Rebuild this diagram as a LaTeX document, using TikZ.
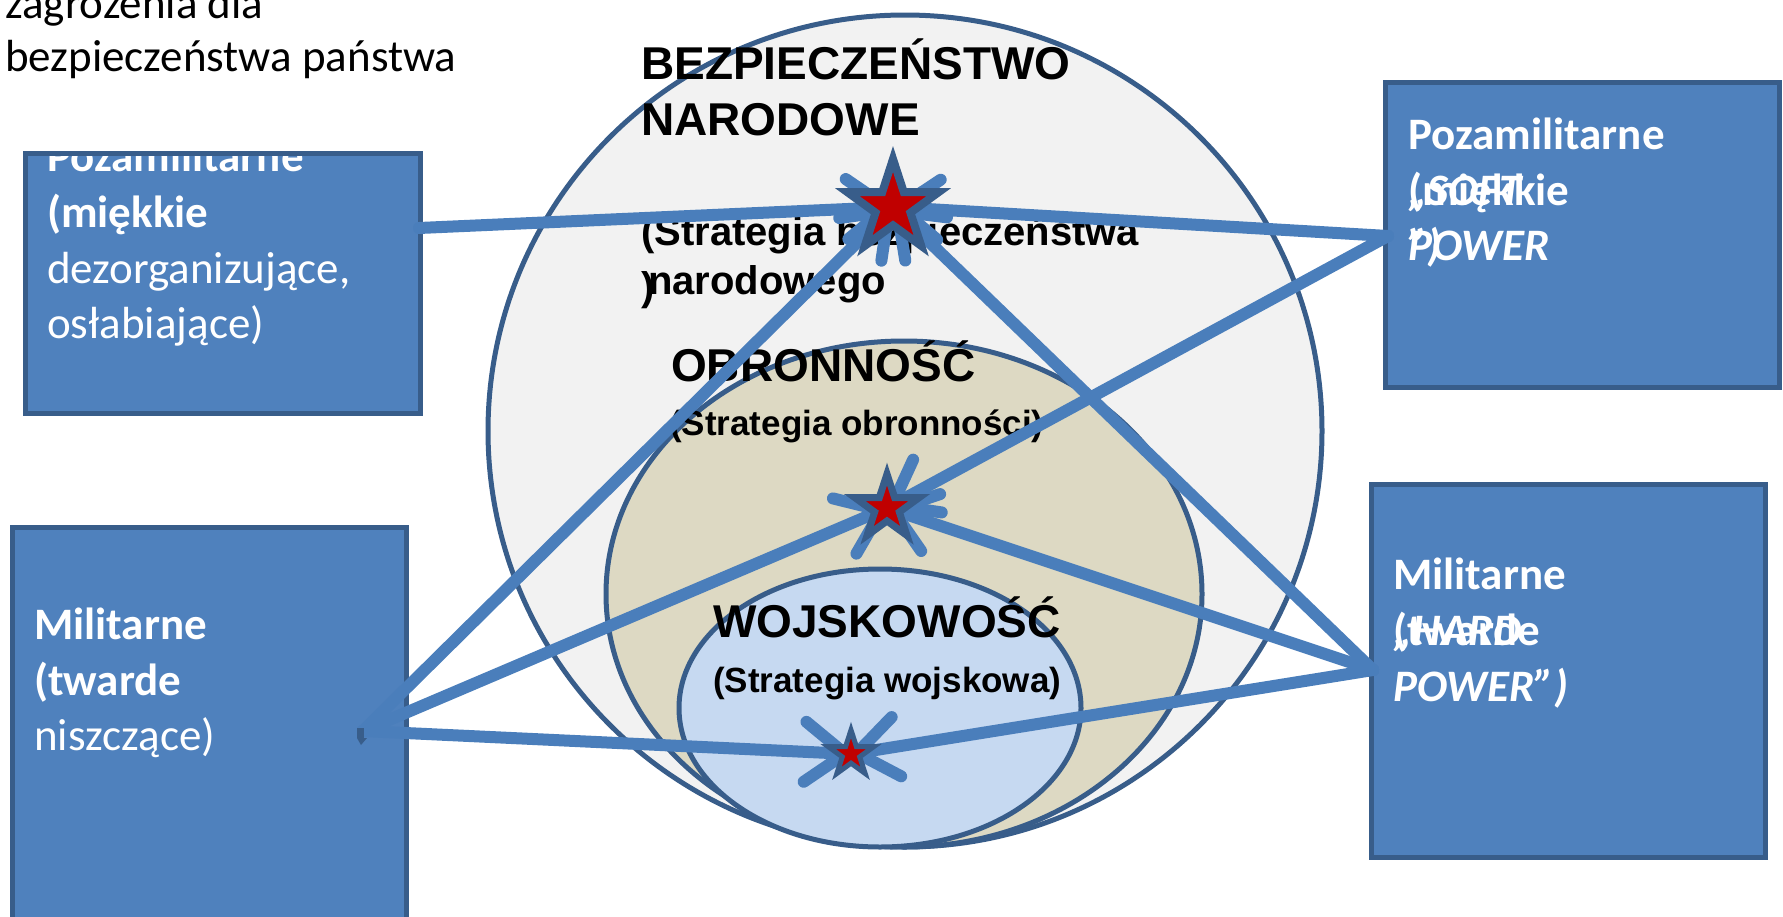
\documentclass[tikz,border=0pt]{standalone}
\usepackage{fontspec}
\setmainfont{Carlito}
\newfontfamily\arialfont{Liberation Sans}
\usetikzlibrary{shapes.geometric,arrows.meta}
\definecolor{boxfill}{HTML}{4F81BD}
\definecolor{boxline}{HTML}{385D8A}
\definecolor{arrowc}{HTML}{4A7EBB}
\definecolor{outerfill}{HTML}{F2F2F2}
\definecolor{midfill}{HTML}{DDD9C3}
\definecolor{innerfill}{HTML}{C6D9F1}
\definecolor{starred}{HTML}{C00000}
\begin{document}
\begin{tikzpicture}[x=1pt,y=-1pt,
  boxstyle/.style={draw=boxline,fill=boxfill,line width=5pt,inner sep=0pt,outer sep=0pt,anchor=north west},
  boxtext/.style={anchor=base west,inner sep=0pt,text=white,font=\fontsize{45}{55}\selectfont},
  ringstyle/.style={ellipse,draw=boxline,line width=5pt,inner sep=0pt,outer sep=0pt},
  biglabel/.style={anchor=base west,inner sep=0pt,font=\arialfont\bfseries\fontsize{46}{56}\selectfont},
  midlabel/.style={anchor=base west,inner sep=0pt,font=\arialfont\bfseries\fontsize{40}{48}\selectfont},
  smalllabel/.style={anchor=base west,inner sep=0pt,font=\arialfont\bfseries\fontsize{35}{42}\selectfont},
  conn/.style={draw=arrowc,line width=12pt,line cap=round,-{Straight Barb[length=40pt,width=60pt,round]}},
  starstyle/.style={star,star points=5,star point ratio=2.618,draw=boxline,fill=starred,inner sep=0pt,outer sep=0pt},
]
\useasboundingbox (0,0) rectangle (1783,916);

% title
\node[anchor=base west,inner sep=0pt,font=\fontsize{45}{55}\selectfont] (title1) at (5,18) {zagrożenia dla};
\node[anchor=base west,inner sep=0pt,font=\fontsize{45}{55}\selectfont] (title2) at (5,71) {bezpieczeństwa państwa};

% rings
\node[ringstyle,fill=outerfill,minimum width=834pt,minimum height=832pt] (outer) at (905,431) {};
\node[ringstyle,fill=midfill,minimum width=596pt,minimum height=506pt] (middle) at (904,594) {};
\node[ringstyle,fill=innerfill,minimum width=402pt,minimum height=278pt] (inner) at (880,708) {};

% ring labels
\node[biglabel] (l1) at (641,79) {BEZPIECZEŃSTWO};
\node[biglabel] (l2) at (641,135) {NARODOWE};
\node[midlabel] (l3) at (641,245) {(Strategia bezpieczeństwa};
\node[midlabel] (l4) at (641,300) {)};
\node[midlabel] (l5) at (648,294) {narodowego};
\node[biglabel] (l6) at (671,381) {OBRONNOŚĆ};
\node[smalllabel] (l7) at (670,435) {(Strategia obronności)};
\node[biglabel] (l8) at (713,637) {WOJSKOWOŚĆ};
\node[smalllabel] (l9) at (713,692) {(Strategia wojskowa)};

% boxes
\node[boxstyle,minimum width=395pt,minimum height=260pt] (b1) at (25,153) {};
\node[boxstyle,minimum width=394pt,minimum height=305pt] (b2) at (1385,82) {};
\node[boxstyle,minimum width=394pt,minimum height=403pt] (b3) at (12,527) {};
\node[boxstyle,minimum width=394pt,minimum height=373pt] (b4) at (1371,484) {};

% box texts
\node[boxtext,font=\bfseries\fontsize{45}{55}\selectfont] (t11) at (47,171) {Pozamilitarne};
\node[boxtext,font=\bfseries\fontsize{45}{55}\selectfont] (t12) at (47,227) {(miękkie};
\node[boxtext] (t13) at (47,283) {dezorganizujące,};
\node[boxtext] (t14) at (47,338) {osłabiające)};
\draw[draw=boxline,line width=5pt] (b1.north west) rectangle (b1.south east);

\node[boxtext,font=\bfseries\fontsize{45}{55}\selectfont] (t21) at (1408,149) {Pozamilitarne};
\node[boxtext,font=\bfseries\fontsize{45}{55}\selectfont] (t22) at (1408,205) {(miękkie};
\node[boxtext,font=\bfseries\itshape\fontsize{45}{55}\selectfont] (t23) at (1408,205) {„SOFT};
\node[boxtext,font=\bfseries\itshape\fontsize{45}{55}\selectfont] (t24) at (1408,260) {”)};
\node[boxtext,font=\bfseries\itshape\fontsize{45}{55}\selectfont] (t25) at (1408,260) {POWER};

\node[boxtext,font=\bfseries\fontsize{45}{55}\selectfont] (t31) at (34,639) {Militarne};
\node[boxtext,font=\bfseries\fontsize{45}{55}\selectfont] (t32) at (34,695) {(twarde};
\node[boxtext] (t33) at (34,750) {niszczące)};

\node[boxtext,font=\bfseries\fontsize{45}{55}\selectfont] (t41) at (1393,589) {Militarne};
\node[boxtext,font=\bfseries\fontsize{45}{55}\selectfont] (t42) at (1393,645) {(twarde};
\node[boxtext,font=\bfseries\itshape\fontsize{45}{55}\selectfont] (t43) at (1393,645) {„HARD};
\node[boxtext,font=\bfseries\itshape\fontsize{45}{55}\selectfont] (t44) at (1393,701) {POWER”)};

% star positions
\coordinate (c1) at (893,207);
\coordinate (c2) at (887,508);
\coordinate (c3) at (851,754);

% connector start points
\coordinate (p1) at (419,228);
\coordinate (p2) at (1388,236);
\coordinate (p3) at (363,731);
\coordinate (p4) at (1373,670);

% connectors
\draw[conn] (p1) -- (c1);
\draw[conn] (p2) -- (c1);
\draw[conn] (p2) -- (c2);
\draw[conn] (p3) -- (c1);
\draw[conn] (p3) -- (c2);
\draw[conn] (p3) -- (c3);
\draw[conn] (p4) -- (c1);
\draw[conn] (p4) -- (c2);
\draw[conn] (p4) -- (c3);

% small tail mark
\fill[boxline] (357,728) rectangle (364,738);
\fill[boxline] (357,738) -- (367,738) -- (361,745) -- cycle;

% stars
\node[starstyle,line width=8pt,minimum size=96pt] (s1) at (c1) {};
\node[starstyle,line width=7pt,minimum size=68pt] (s2) at (c2) {};
\node[starstyle,line width=5pt,minimum size=48pt] (s3) at (c3) {};
\end{tikzpicture}
\end{document}
